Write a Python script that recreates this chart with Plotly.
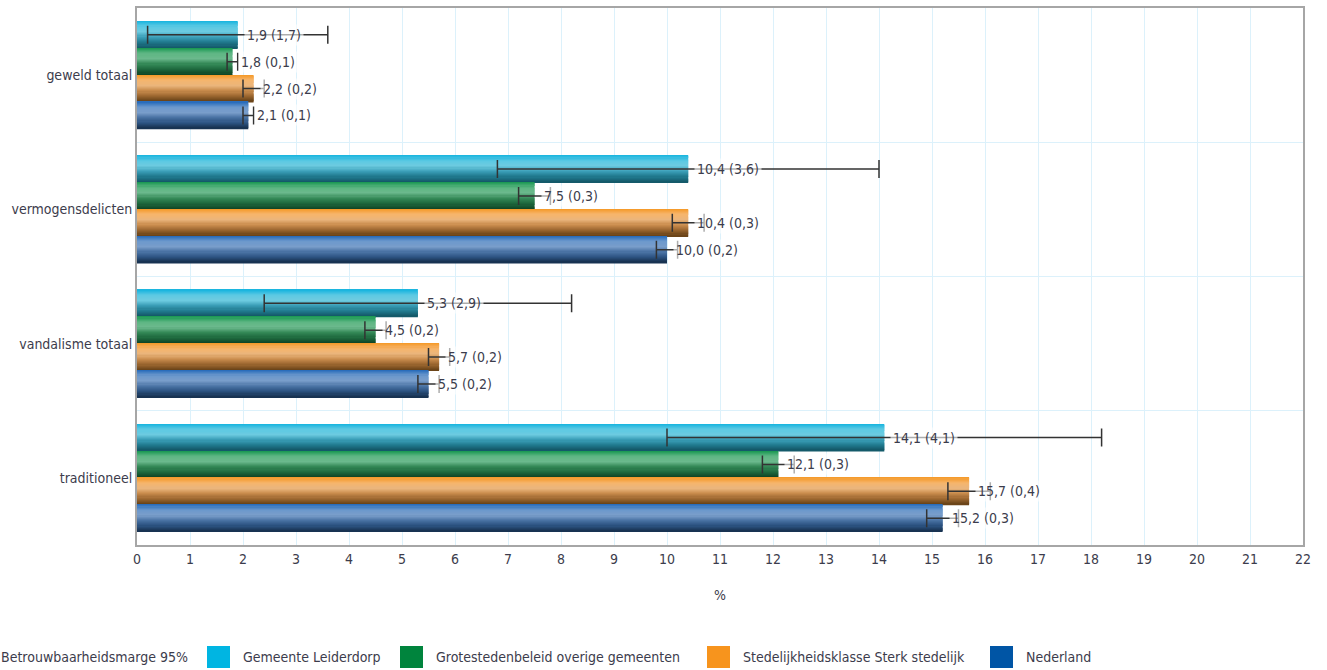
import plotly.graph_objects as go

categories = ["geweld totaal", "vermogensdelicten", "vandalisme totaal", "traditioneel"]
series = ["Gemeente Leiderdorp", "Grotestedenbeleid overige gemeenten",
          "Stedelijkheidsklasse Sterk stedelijk", "Nederland"]
values = [
    [1.9, 10.4, 5.3, 14.1],
    [1.8, 7.5, 4.5, 12.1],
    [2.2, 10.4, 5.7, 15.7],
    [2.1, 10.0, 5.5, 15.2],
]
margins = [
    [1.7, 3.6, 2.9, 4.1],
    [0.1, 0.3, 0.2, 0.3],
    [0.2, 0.3, 0.2, 0.4],
    [0.1, 0.2, 0.2, 0.3],
]
legend_colors = ["#00b5e2", "#00843d", "#f7941d", "#0055a5"]
# shading of each bar, top to bottom (the bars have a glossy gradient)
bar_shades = [
    ["#1cb6df", "#5cc9e3", "#6dcbe0", "#3b9fb8", "#217b90", "#145a6a"],
    ["#1d9a55", "#5db683", "#6cb98d", "#358a58", "#1f6b3f", "#114727"],
    ["#f59b2c", "#f6b56c", "#eab57c", "#c98c4c", "#9c6730", "#6c4519"],
    ["#2a6dbb", "#6b98cc", "#7a9ecb", "#4a73a4", "#2d5483", "#183352"],
]
error_label = "Betrouwbaarheidsmarge 95%"

FONT = "Liberation Sans Narrow, DejaVu Sans Condensed, Arial Narrow, sans-serif"
TXT = "#3c3c4c"

L, R, T, B = 137, 24, 8, 125
W, H = 1327, 670
PW, PH = W - L - R, H - T - B

n = len(series)
slot = 0.8 / n
STEPS = 24


def fmt(v):
    return f"{v:.1f}".replace(".", ",")


def hex2rgb(h):
    return [int(h[i:i + 2], 16) for i in (1, 3, 5)]


def gradient(stops, steps):
    out = []
    for s in range(steps):
        t = s / (steps - 1) * (len(stops) - 1)
        a = min(int(t), len(stops) - 2)
        f = t - a
        c0, c1 = hex2rgb(stops[a]), hex2rgb(stops[a + 1])
        out.append("rgb(%d,%d,%d)" % tuple(round(c0[q] + (c1[q] - c0[q]) * f) for q in range(3)))
    return out


fig = go.Figure()
for i, name in enumerate(series):
    base = -0.4 + i * slot
    for s, col in enumerate(gradient(bar_shades[i], STEPS)):
        fig.add_trace(go.Bar(
            y=categories, x=values[i], orientation="h",
            offset=base + s * slot / STEPS, width=slot / STEPS + 0.003,
            marker=dict(color=col, line=dict(width=0)),
            showlegend=False, hoverinfo="skip",
        ))
for i, name in enumerate(series):
    fig.add_trace(go.Bar(
        y=categories, x=values[i], name=name, orientation="h",
        offset=-0.4 + i * slot, width=slot,
        marker=dict(color="rgba(0,0,0,0)", line=dict(width=0)),
        error_x=dict(type="data", array=margins[i], color="#333333", thickness=1.5, width=9),
        showlegend=False, hoverinfo="x+name",
    ))

# value labels, placed at each bar's end
for i in range(n):
    for j, cat in enumerate(categories):
        off = -0.4 + (i + 0.5) * slot
        fig.add_annotation(
            x=values[i][j], y=j + off, xref="x", yref="y",
            text=f"{fmt(values[i][j])} ({fmt(margins[i][j])})",
            showarrow=False, xanchor="left", xshift=6,
            bgcolor="rgba(255,255,255,0.6)", borderpad=2,
            font=dict(family=FONT, size=14, color=TXT),
        )


def px(x):
    return (x - L) / PW


def py(y):
    return (T + PH - y) / PH


# legend row
leg_y = 657
fig.add_annotation(x=px(190), y=py(leg_y), xref="paper", yref="paper", text=error_label,
                   showarrow=False, xanchor="right", yanchor="middle",
                   font=dict(family=FONT, size=14, color=TXT))
sw_x = [207, 400, 707, 990]
for k, name in enumerate(series):
    fig.add_shape(type="rect", xref="paper", yref="paper",
                  x0=px(sw_x[k]), x1=px(sw_x[k] + 23), y0=py(leg_y - 11), y1=py(leg_y + 11),
                  fillcolor=legend_colors[k], line=dict(width=0))
    fig.add_annotation(x=px(sw_x[k] + 34), y=py(leg_y), xref="paper", yref="paper", text=name,
                       showarrow=False, xanchor="left", yanchor="middle",
                       font=dict(family=FONT, size=14, color=TXT))

fig.update_layout(
    width=W, height=H,
    margin=dict(l=L, r=R, t=T, b=B, autoexpand=False),
    barmode="overlay",
    plot_bgcolor="white", paper_bgcolor="white",
    font=dict(family=FONT, size=14, color=TXT),
    xaxis=dict(range=[0, 22], dtick=1, tick0=0, showgrid=True, gridcolor="#dcf1fb", gridwidth=1,
               zeroline=False, showline=True, linecolor="#a6a6a6", linewidth=2, mirror=True,
               ticks="", ticklabelstandoff=0,
               title=dict(text="%", standoff=24, font=dict(family=FONT, size=14, color=TXT))),
    yaxis=dict(autorange="reversed", tickson="boundaries", showgrid=True, gridcolor="#dcf1fb",
               gridwidth=1, showline=True, linecolor="#a6a6a6", linewidth=2, mirror=True,
               ticks="", ticklabelstandoff=0),
)

fig.write_html("out.html", config={"displayModeBar": False},
               post_script="document.body.style.margin='0';")
